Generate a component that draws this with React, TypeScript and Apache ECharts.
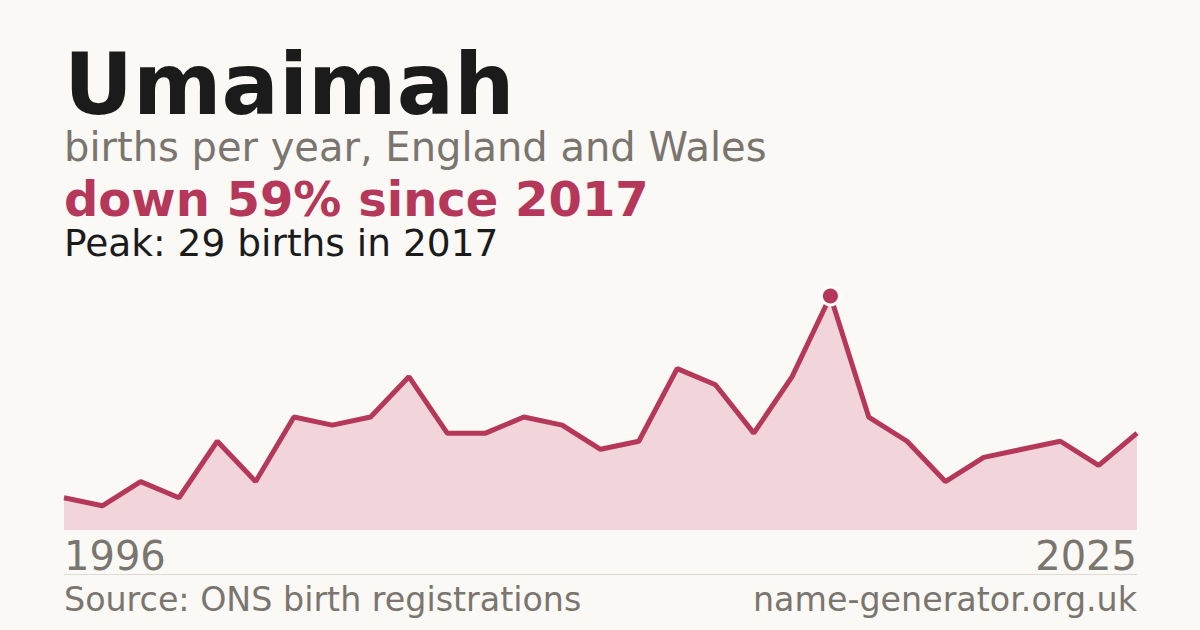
import React, { useEffect, useRef } from 'react';
import * as echarts from 'echarts';

// data points as plotted (evenly spaced, first and last year labelled)
const years = [
  '1996', '1997', '1998', '2000', '2001', '2002', '2003', '2004', '2005', '2006',
  '2007', '2008', '2009', '2010', '2011', '2012', '2013', '2014', '2015', '2016',
  '2017', '2018', '2019', '2020', '2021', '2022', '2023', '2024', '2025',
];
const births = [
  4, 3, 6, 4, 11, 6, 14, 13, 14, 19,
  12, 12, 14, 13, 10, 11, 20, 18, 12, 19,
  29, 14, 11, 6, 9, 10, 11, 8, 12,
];
const edgeLabels = ['1996', '2025'];

const FONT = '"DejaVu Sans", Verdana, sans-serif';
const RED = '#b5375a';
const GREY = '#7a756f';

const App: React.FC = () => {
  const chartRef = useRef<HTMLDivElement>(null);

  useEffect(() => {
    if (!chartRef.current) return;
    document.body.style.margin = '0';
    const chart = echarts.init(chartRef.current, undefined, { renderer: 'svg' });

    const peak = Math.max(...births);
    const peakIdx = births.indexOf(peak);

    const option: echarts.EChartsOption = {
      animation: false,
      backgroundColor: '#faf9f5',
      grid: { left: 64, right: 63, top: 296, bottom: 100 },
      xAxis: {
        type: 'category',
        data: years,
        boundaryGap: false,
        axisLine: { show: false },
        axisTick: { show: false },
        splitLine: { show: false },
        axisLabel: {
          interval: 0,
          margin: 8,
          fontFamily: FONT,
          fontSize: 40,
          lineHeight: 36,
          color: GREY,
          alignMinLabel: 'left',
          alignMaxLabel: 'right',
          formatter: (v: string) => (edgeLabels.includes(v) ? v : ''),
        } as any,
      },
      yAxis: {
        type: 'value',
        min: 0,
        max: peak,
        show: false,
      },
      series: [
        {
          type: 'line',
          symbol: 'none',
          lineStyle: { color: RED, width: 5 },
          areaStyle: { color: '#f1d5db', opacity: 1 },
          data: births,
          z: 2,
        },
        {
          type: 'scatter',
          symbol: 'circle',
          symbolSize: 18,
          itemStyle: { color: RED, borderColor: '#ffffff', borderWidth: 3, opacity: 1 },
          data: [[years[peakIdx], peak]],
          z: 4,
        },
      ],
      graphic: [
        {
          type: 'text',
          x: 64,
          y: 84,
          style: {
            text: 'Umaimah',
            font: `bold 85px ${FONT}`,
            lineHeight: 76,
            fill: '#1b1b1b',
            textVerticalAlign: 'middle',
          },
        },
        {
          type: 'text',
          x: 64,
          y: 147,
          style: {
            text: 'births per year, England and Wales',
            font: `40px ${FONT}`,
            lineHeight: 36,
            fill: GREY,
            textVerticalAlign: 'middle',
          },
        },
        {
          type: 'text',
          x: 64,
          y: 199,
          style: {
            text: 'down 59% since 2017',
            font: `bold 48px ${FONT}`,
            lineHeight: 42,
            fill: RED,
            textVerticalAlign: 'middle',
          },
        },
        {
          type: 'text',
          x: 64,
          y: 243,
          style: {
            text: 'Peak: 29 births in 2017',
            font: `37.5px ${FONT}`,
            lineHeight: 34,
            fill: '#1b1b1b',
            textVerticalAlign: 'middle',
          },
        },
        {
          type: 'line',
          shape: { x1: 64, y1: 574.5, x2: 1137, y2: 574.5 },
          style: { stroke: '#dedad3', lineWidth: 1 },
        },
        {
          type: 'text',
          x: 64,
          y: 599,
          style: {
            text: 'Source: ONS birth registrations',
            font: `33.3px ${FONT}`,
            lineHeight: 30,
            fill: GREY,
            textVerticalAlign: 'middle',
          },
        },
        {
          type: 'text',
          x: 1137,
          y: 599,
          style: {
            text: 'name-generator.org.uk',
            font: `33.3px ${FONT}`,
            lineHeight: 30,
            fill: GREY,
            textAlign: 'right',
            textVerticalAlign: 'middle',
          },
        },
      ],
    };

    chart.setOption(option as any);
    return () => chart.dispose();
  }, []);

  return (
    <div
      ref={chartRef}
      style={{ position: 'fixed', left: 0, top: 0, width: 1200, height: 630 }}
    />
  );
};

export default App;
